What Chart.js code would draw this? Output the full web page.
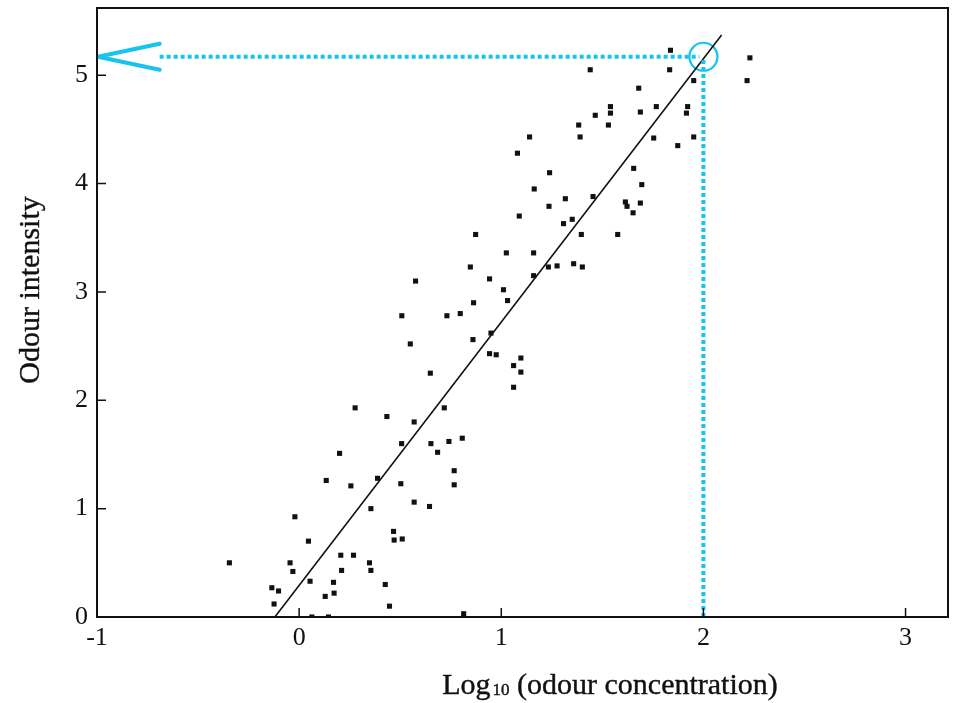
<!DOCTYPE html>
<html><head><meta charset="utf-8">
<script src="https://cdn.jsdelivr.net/npm/chart.js@4/dist/chart.umd.min.js"></script>
<style>html,body{margin:0;padding:0;background:#fff}#wrap{width:954px;height:703px;position:relative}</style>
</head><body><div id="wrap"><canvas id="c"></canvas></div>
<script>
const xTicks = [-1, 0, 1, 2, 3];
const yTicks = [0, 1, 2, 3, 4, 5];
const obsX = [1.837,1.833,1.44,2.23,2.216,1.952,1.68,1.54,1.54,1.465,1.688,1.767,1.922,1.916,1.383,1.53,1.39,1.14,1.754,1.952,1.873,1.08,1.239,1.655,1.695,1.163,1.317,1.454,1.236,1.614,1.688,1.622,1.652,1.089,1.308,1.351,0.873,1.396,1.576,1.025,1.16,0.847,1.233,1.276,1.358,1.401,0.942,1.16,0.576,1.011,1.031,0.863,0.731,0.797,0.508,
0.86,0.949,0.55,0.942,0.975,0.649,0.277,0.434,0.569,0.718,0.507,0.652,0.685,0.741,0.807,0.2,0.388,0.134,0.256,0.503,0.767,0.767,0.569,0.645,0.355,-0.021,0.467,0.47,0.51,0.046,-0.345,-0.045,0.206,0.269,0.348,0.355,0.21,-0.031,0.054,0.17,0.426,-0.135,-0.102,0.129,0.173,-0.124,0.447,0.063,0.145,0.814,1.061,1.097,1.097,1.061];
const obsY = [5.23,5.05,5.05,5.16,4.95,4.95,4.88,4.71,4.65,4.63,4.66,4.71,4.71,4.65,4.54,4.54,4.43,4.43,4.42,4.43,4.35,4.28,4.10,4.14,3.99,3.95,3.86,3.88,3.79,3.83,3.82,3.79,3.73,3.70,3.63,3.67,3.53,3.53,3.53,3.36,3.36,3.23,3.23,3.24,3.26,3.23,3.12,3.15,3.10,3.02,2.92,2.90,2.78,2.80,2.78,
2.56,2.62,2.52,2.43,2.42,2.25,1.93,1.85,1.80,1.93,1.60,1.60,1.52,1.62,1.65,1.51,1.28,1.26,1.21,1.23,1.35,1.22,1.06,1.02,1.00,0.925,0.79,0.71,0.72,0.70,0.50,0.50,0.57,0.57,0.50,0.43,0.43,0.42,0.33,0.32,0.30,0.27,0.24,0.19,0.22,0.12,0.10,0.0,0.0,0.03,2.32,2.39,2.26,2.12];
const fitX = [-0.12, 2.09];
const fitY = [0, 5.37];
const readX = 2.0;
const readY = 5.17;
const guideStartX = -0.69;
const arrowX = [-0.69, -0.995, -0.69];
const arrowY = [5.29, 5.17, 5.05];

const CYAN = '#17c3ef';
const INK = '#111';
const SERIF = '"Liberation Serif", "DejaVu Serif", serif';

const pts = (xs, ys) => xs.map((x, i) => ({x, y: ys[i]}));

function inkText(ctx, t, x, y) {
  ctx.fillText(t, x, y);
  ctx.strokeText(t, x, y);
}

const framePlugin = {
  id: 'frame',
  afterDraw(chart) {
    const {ctx, chartArea: a, scales: {x, y}} = chart;
    ctx.save();
    ctx.strokeStyle = INK;
    ctx.lineWidth = 2;
    ctx.strokeRect(a.left, a.top, a.right - a.left, a.bottom - a.top);
    ctx.lineWidth = 1.5;
    ctx.beginPath();
    yTicks.forEach(v => { const py = y.getPixelForValue(v); ctx.moveTo(a.left, py); ctx.lineTo(a.left + 9, py); });
    xTicks.forEach(v => { const px = x.getPixelForValue(v); ctx.moveTo(px, a.bottom); ctx.lineTo(px, a.bottom - 9); });
    ctx.stroke();
    ctx.fillStyle = INK;
    ctx.lineWidth = 0.4;
    ctx.textBaseline = 'alphabetic';
    const big = '30px ' + SERIF, small = '17px ' + SERIF;
    const p1 = 'Log', p2 = '10', p3 = ' (odour concentration)';
    ctx.font = big; const w1 = ctx.measureText(p1).width, w3 = ctx.measureText(p3).width;
    ctx.font = small; const w2 = ctx.measureText(p2).width + 2;
    const cx = 610, base = 694;
    let sx = cx - (w1 + w2 + w3) / 2;
    ctx.font = big; inkText(ctx, p1, sx, base); sx += w1 + 2;
    ctx.font = small; inkText(ctx, p2, sx, base + 1); sx += w2 - 2;
    ctx.font = big; inkText(ctx, p3, sx, base);
    ctx.translate(31, 290);
    ctx.rotate(-Math.PI / 2);
    ctx.textAlign = 'center';
    ctx.textBaseline = 'middle';
    ctx.font = '30px ' + SERIF;
    inkText(ctx, 'Odour intensity', 0, 0);
    ctx.restore();
  }
};

new Chart(document.getElementById('c'), {
  type: 'scatter',
  data: {
    datasets: [
      { label: 'guideH', type: 'line', data: [{x: guideStartX, y: readY}, {x: readX - 0.02, y: readY}], borderColor: CYAN, borderWidth: 4, borderDash: [4, 3], pointRadius: 0, fill: false },
      { label: 'guideV', type: 'line', data: [{x: readX, y: readY - 0.03}, {x: readX, y: 0}], borderColor: CYAN, borderWidth: 4, borderDash: [4, 3], pointRadius: 0, fill: false },
      { label: 'arrow', type: 'line', data: pts(arrowX, arrowY), borderColor: CYAN, borderWidth: 4, borderCapStyle: 'round', borderJoinStyle: 'round', pointRadius: 0, fill: false },
      { label: 'fit', type: 'line', data: pts(fitX, fitY), borderColor: INK, borderWidth: 1.6, pointRadius: 0, fill: false },
      { label: 'obs', data: pts(obsX, obsY), pointStyle: 'rect', pointRadius: 3.6, backgroundColor: INK, borderColor: INK, borderWidth: 0 },
      { label: 'read', data: [{x: readX, y: readY}], pointStyle: 'circle', pointRadius: 14, backgroundColor: 'rgba(0,0,0,0)', borderColor: CYAN, borderWidth: 2.2 }
    ]
  },
  options: {
    responsive: true, maintainAspectRatio: false, animation: false,
    layout: { autoPadding: false, padding: { top: 8, right: 6, left: 0, bottom: 0 } },
    plugins: { legend: { display: false }, tooltip: { enabled: false } },
    scales: {
      x: {
        type: 'linear', min: -1, max: 3.21,
        afterBuildTicks: s => { s.ticks = xTicks.map(v => ({value: v})); },
        afterFit: s => { s.height = 86; s.paddingLeft = 0; s.paddingRight = 0; },
        grid: { display: false, drawTicks: false },
        border: { display: false },
        ticks: { padding: 6, color: INK, font: { family: SERIF, size: 26 }, callback: v => String(v) }
      },
      y: {
        type: 'linear', min: 0, max: 5.62,
        afterBuildTicks: s => { s.ticks = yTicks.map(v => ({value: v})); },
        afterFit: s => { s.width = 97; s.paddingTop = 0; s.paddingBottom = 0; },
        grid: { display: false, drawTicks: false },
        border: { display: false },
        ticks: { padding: 9, color: INK, font: { family: SERIF, size: 26 }, callback: v => String(v) }
      }
    }
  },
  plugins: [framePlugin]
});
</script>
</body></html>
